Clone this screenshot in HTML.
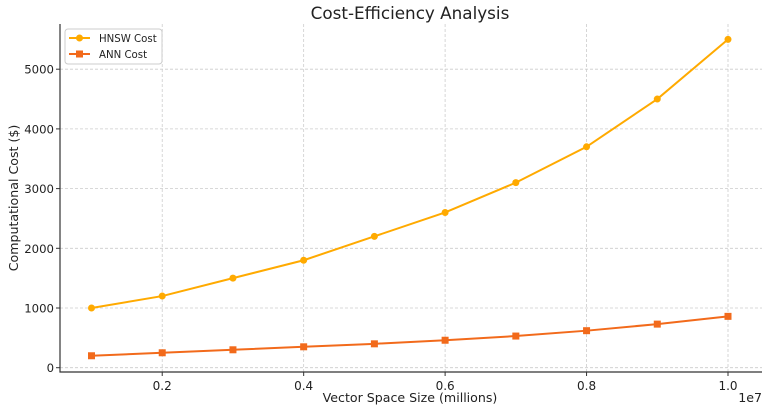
<!DOCTYPE html>
<html><head><meta charset="utf-8"><style>
body{margin:0;background:#fff;font-family:"DejaVu Sans",sans-serif}
</style></head><body>
<svg id="c" width="768" height="411" xmlns="http://www.w3.org/2000/svg" font-family="DejaVu Sans, Liberation Sans, sans-serif"></svg>
<script>
const xs=[0.1,0.2,0.3,0.4,0.5,0.6,0.7,0.8,0.9,1.0];
const hnsw=[1000,1200,1500,1800,2200,2600,3100,3700,4500,5500];
const ann=[200,250,300,350,400,460,530,620,730,860];
const xTicks=[0.2,0.4,0.6,0.8,1.0];
const xTickLabels=["0.2","0.4","0.6","0.8","1.0"];
const yTicks=[0,1000,2000,3000,4000,5000];
const L=60,R=762,T=24,B=372;
const X=v=>91.5+(v-0.1)*(728-91.5)/0.9;
const Y=v=>367.7-v*0.0597;
const svg=document.getElementById('c');
const NS='http://www.w3.org/2000/svg';
function mk(t,a,p){const e=document.createElementNS(NS,t);for(const k in a)e.setAttribute(k,a[k]);(p||svg).appendChild(e);return e;}
let e;
xTicks.forEach((v,i)=>{
 e=mk('line',{x1:X(v),x2:X(v),y1:T,y2:B,stroke:'#ccc','stroke-dasharray':'3,2','stroke-width':0.8});
 
 e=mk('line',{x1:X(v),x2:X(v),y1:B,y2:B+4,stroke:'#333'});
 
 e=mk('text',{x:X(v),y:B+18,'text-anchor':'middle','font-size':12,fill:'#222'});e.textContent=xTickLabels[i];
 
});
yTicks.forEach(v=>{
 e=mk('line',{x1:L,x2:R,y1:Y(v),y2:Y(v),stroke:'#ccc','stroke-dasharray':'3,2','stroke-width':0.8});
 
 e=mk('line',{x1:L-4,x2:L,y1:Y(v),y2:Y(v),stroke:'#333'});
 
 e=mk('text',{x:L-6,y:Y(v)+4.5,'text-anchor':'end','font-size':11.7,fill:'#222'});e.textContent=v;
 
});
e=mk('path',{d:`M${L} ${T}V${B}H${R}`,fill:'none',stroke:'#333','stroke-width':1.2});

function series(vals,color,shape,name){
 e=mk('polyline',{points:xs.map((x,i)=>X(x)+','+Y(vals[i])).join(' '),fill:'none',stroke:color,'stroke-width':2});
 
 xs.forEach((x,i)=>{
  if(shape==='c')e=mk('circle',{cx:X(x),cy:Y(vals[i]),r:3.5,fill:color});
  else e=mk('rect',{x:X(x)-3.5,y:Y(vals[i])-3.5,width:7,height:7,fill:color});
  
 });
}
series(hnsw,'#ffaa00','c','hnsw');
series(ann,'#f26a1b','s','ann');
e=mk('text',{x:410,y:19,'text-anchor':'middle','font-size':16.8,fill:'#222'});e.textContent='Cost-Efficiency Analysis';

e=mk('text',{x:410,y:402,'text-anchor':'middle','font-size':12.6,fill:'#222'});e.textContent='Vector Space Size (millions)';

e=mk('text',{x:0,y:0,'text-anchor':'middle','font-size':12.6,fill:'#222',transform:'translate(18,198) rotate(-90)'});e.textContent='Computational Cost ($)';

e=mk('text',{x:762,y:402,'text-anchor':'end','font-size':12.6,fill:'#222'});e.textContent='1e7';

const g=mk('g',{});
mk('rect',{x:65,y:29,width:97,height:35,rx:3,fill:'#fff',stroke:'#ccc'},g);
mk('line',{x1:69,x2:90,y1:38,y2:38,stroke:'#ffaa00','stroke-width':2},g);
mk('circle',{cx:79.5,cy:38,r:3.5,fill:'#ffaa00'},g);
e=mk('text',{x:99,y:42,'font-size':10.2,fill:'#222'},g);e.textContent='HNSW Cost';

mk('line',{x1:69,x2:90,y1:54,y2:54,stroke:'#f26a1b','stroke-width':2},g);
mk('rect',{x:76,y:50.5,width:7,height:7,fill:'#f26a1b'},g);
e=mk('text',{x:99,y:58,'font-size':10.2,fill:'#222'},g);e.textContent='ANN Cost';

</script>
</body></html>
